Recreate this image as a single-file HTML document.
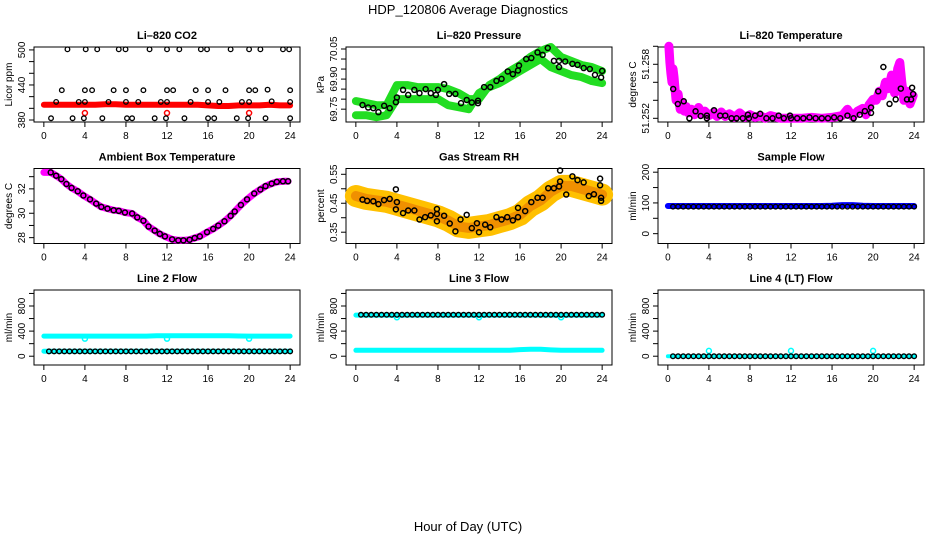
<!DOCTYPE html>
<html><head><meta charset="utf-8"><style>
html,body{margin:0;padding:0;background:#fff}
svg{display:block;font-family:"Liberation Sans",sans-serif}
</style></head><body>
<svg id="chart" width="936" height="540" viewBox="0 0 936 540" xmlns="http://www.w3.org/2000/svg">
<rect width="936" height="540" fill="#fff"/>
<text x="468" y="14" font-size="13" text-anchor="middle">HDP_120806  Average Diagnostics</text>
<text x="468" y="531" font-size="13" text-anchor="middle">Hour of Day (UTC)</text>
</svg>
<script>
const halfHours = [0.5,1,1.5,2,2.5,3,3.5,4,4.5,5,5.5,6,6.5,7,7.5,8,8.5,9,9.5,10,10.5,11,11.5,12,12.5,13,13.5,14,14.5,15,15.5,16,16.5,17,17.5,18,18.5,19,19.5,20,20.5,21,21.5,22,22.5,23,23.5,24];
const hourly = [0,1,2,3,4,5,6,7,8,9,10,11,12,13,14,15,16,17,18,19,20,21,22,23,24];
const xTicks = [0,4,8,12,16,20,24];

// CO2
const co2Hours = [2.3,4.08,5.2,7.3,7.96,10.3,12.0,13.2,15.3,15.9,18.2,20.0,21.1,23.3,23.9,1.75,4.0,4.7,6.8,8.0,9.7,12.0,12.6,14.8,16,17.7,20,20.6,21.8,24,1.2,3.4,4.0,6.3,8,9.2,11.4,12,14.3,16,17.1,19.3,20,22.2,24,0.7,2.8,3.9,5.7,8.1,8.6,10.8,11.9,13.7,16,16.6,18.8,19.9,21.6,24];
const co2Values = [501,501,501,501,501,501,501,501,501,501,501,501,501,501,501,431,431,431,431,431,431,431,431,431,431,431,431,431,432,431,411,411,411,411,411,411,411,411,411,411,411,411,411,412,411,383,383,383,383,383,383,383,383,383,383,383,383,383,383,383];
const co2Band = [406,406,406,406,406,406,407,407,406,406,406,406,406,406,406,406,405,404,404,405,405,405,406,405,405];
const co2RedHours = [4,12,20];
const co2RedValues = [392,392,392];

// Pressure
const presHours = [0.65,1.2,1.7,2.2,2.76,3.3,3.9,4.0,4.6,5.1,5.7,6.2,6.8,7.3,7.8,8.0,8.6,9.1,9.7,10.25,10.8,11.3,11.9,11.9,12.5,13.1,13.7,14.2,14.8,15.3,15.8,15.9,16.6,17.1,17.7,18.2,18.7,19.3,19.8,19.8,20.4,21.1,21.6,22.2,22.8,23.3,23.9,24.0];
const presValues = [69.771,69.758,69.755,69.735,69.767,69.755,69.785,69.808,69.846,69.821,69.846,69.830,69.850,69.830,69.821,69.846,69.875,69.826,69.826,69.780,69.796,69.783,69.780,69.792,69.860,69.860,69.891,69.901,69.938,69.925,69.943,69.968,70.000,70.005,70.033,70.021,70.055,69.991,69.991,69.960,69.988,69.976,69.971,69.955,69.950,69.921,69.908,69.941];
const presUpper = [69.79,69.78,69.77,69.77,69.87,69.87,69.86,69.86,69.86,69.85,69.83,69.80,69.80,69.87,69.90,69.94,69.97,70.01,70.04,70.06,70.01,69.99,69.97,69.96,69.94];
const presLower = [69.72,69.72,69.71,69.72,69.80,69.80,69.80,69.80,69.80,69.77,69.76,69.75,69.83,69.86,69.88,69.91,69.94,69.97,70.00,69.96,69.94,69.92,69.91,69.89,69.88];

// Li-820 temperature
const tempHours = [0.52,0.97,1.55,2.1,2.7,3.2,3.8,3.8,4.5,5.1,5.6,6.2,6.7,7.3,7.8,7.9,8.5,9.0,9.6,10.2,10.8,11.3,11.9,12.0,12.6,13.2,13.8,14.4,15.0,15.6,16.2,16.8,17.5,18.1,18.7,19.2,19.8,19.8,20.5,21.0,21.6,22.2,22.7,23.3,23.7,23.8,23.9];
const tempValues = [51.25526,51.25359,51.25389,51.2520,51.25278,51.25226,51.2523,51.2520,51.2529,51.2523,51.2523,51.2520,51.2520,51.2520,51.2524,51.2520,51.2523,51.2525,51.2520,51.2520,51.2523,51.2520,51.2523,51.2520,51.2520,51.2520,51.2521,51.2520,51.2520,51.2520,51.2521,51.2520,51.2523,51.2520,51.2524,51.2528,51.2532,51.2526,51.2550,51.2577,51.2536,51.2541,51.2553,51.2541,51.2541,51.2554,51.2547];
const tempScatHours = [0.1,0.2,0.3,0.4,0.5,0.6,0.7,0.8,1.0,1.2,1.4,1.6,1.8,2.0,2.3,2.6,3.0,3.3,3.6,4.0,4.4,4.8,5.2,5.6,6.0,6.5,7,7.5,8,8.5,9,9.5,10,11,12,13,14,15,16,17,17.5,18,18.5,19,19.3,19.6,20,20.3,20.6,20.9,21.2,21.5,21.8,22.1,22.4,22.6,22.8,23.0,23.3,23.6,23.9];
const tempScatValues = [51.2600,51.2582,51.2570,51.2560,51.2575,51.2566,51.2553,51.2540,51.2547,51.2530,51.2537,51.2528,51.2533,51.2526,51.2530,51.2524,51.2532,51.2525,51.2528,51.2523,51.2526,51.2522,51.2527,51.2522,51.2525,51.2521,51.2526,51.2521,51.2524,51.2521,51.2523,51.2520,51.2523,51.2520,51.2520,51.2520,51.2521,51.2520,51.2521,51.2523,51.2530,51.2522,51.2528,51.2531,51.2524,51.2535,51.2541,51.2540,51.2550,51.2545,51.2560,51.2553,51.2568,51.2548,51.2575,51.2582,51.2560,51.2540,51.2550,51.2536,51.2545];

// Ambient box temperature
const ambHours = [0.67,1.2,1.7,2.2,2.7,3.3,3.85,4.5,5.1,5.6,6.2,6.8,7.3,7.9,8.6,9.1,9.7,10.2,10.8,11.3,11.8,12.5,13.1,13.6,14.2,14.7,15.2,15.9,16.5,17.0,17.6,18.2,18.6,19.2,19.8,20.5,21.1,21.6,22.2,22.7,23.3,23.8];
const ambValues = [33.35,33.08,32.8,32.4,32.08,31.8,31.46,31.14,30.79,30.52,30.38,30.25,30.2,30.06,29.98,29.66,29.39,28.91,28.58,28.31,28.1,27.86,27.78,27.78,27.83,27.97,28.1,28.45,28.72,28.99,29.34,29.79,30.14,30.68,31.14,31.62,31.95,32.22,32.43,32.57,32.62,32.62];

// Gas stream RH
const rhHours = [0.65,1.1,1.7,2.2,2.75,3.3,3.9,3.9,4.0,4.6,5.1,5.7,6.2,6.75,7.3,7.9,7.9,7.9,8.6,9.15,9.7,10.2,10.8,11.3,11.8,12.0,12.6,13.1,13.7,14.2,14.75,15.3,15.8,15.8,16.5,17.1,17.7,18.2,18.75,19.3,19.8,19.9,19.9,20.5,21.1,21.6,22.2,22.7,23.2,23.8,23.8,23.9,23.9];
const rhValues = [0.4625,0.458,0.457,0.447,0.461,0.465,0.498,0.429,0.454,0.416,0.425,0.425,0.394,0.402,0.408,0.413,0.430,0.388,0.407,0.380,0.353,0.394,0.410,0.364,0.381,0.350,0.376,0.367,0.402,0.394,0.402,0.391,0.402,0.434,0.423,0.454,0.469,0.469,0.502,0.502,0.508,0.525,0.563,0.480,0.543,0.530,0.522,0.475,0.481,0.535,0.512,0.469,0.458];
const rhBand = [0.475,0.465,0.46,0.455,0.445,0.435,0.425,0.415,0.405,0.39,0.37,0.365,0.37,0.375,0.385,0.395,0.41,0.44,0.46,0.49,0.51,0.51,0.50,0.49,0.48];

// Sample flow
const sampleBand = [90,90,90,90,90,90,90,90,90,90,90,90,90,90,90,90,91,93,93,91,90,90,90,90,90];
const sampleValues = [88,88,88,88,88,88,88,88,88,88,88,88,88,88,88,88,88,88,88,88,88,88,88,88,88,88,88,88,88,88,88,88,88,88,88,88,88,88,88,88,88,88,88,88,88,88,88,88];

// Line flows
const line2Upper = [320,320,320,320,320,320,320,320,320,320,320,325,325,325,325,325,325,325,325,322,320,320,320,320,320];
const line2Lower = [80,80,80,80,80,80,80,80,80,80,80,80,80,80,80,80,80,80,80,80,80,80,80,80,80];
const line2Values = [78,78,78,78,78,78,78,78,78,78,78,78,78,78,78,78,78,78,78,78,78,78,78,78,78,78,78,78,78,78,78,78,78,78,78,78,78,78,78,78,78,78,78,78,78,78,78,78];
const dipHours = [4,12,20];
const line2Dips = [280,280,280];
const line3Upper = [655,655,655,655,650,655,655,655,655,655,655,655,650,655,655,655,655,655,655,655,650,655,655,655,655];
const line3Lower = [95,95,95,95,95,95,95,95,95,95,95,95,95,95,95,95,105,110,110,100,95,95,95,95,95];
const line3Values = [660,660,660,660,660,660,660,660,660,660,660,660,660,660,660,660,660,660,660,660,660,660,660,660,660,660,660,660,660,660,660,660,660,660,660,660,660,660,660,660,660,660,660,660,660,660,660,660];
const line3Dips = [620,620,620];
const line4Values = [0,0,0,0,0,0,0,0,0,0,0,0,0,0,0,0,0,0,0,0,0,0,0,0,0,0,0,0,0,0,0,0,0,0,0,0,0,0,0,0,0,0,0,0,0,0,0,0];
const line4Spikes = [85,85,85];

// y axis ticks / labels
const co2Ticks = [380,400,420,440,460,480,500], co2Labels = ["380","440","500"];
const presTicks = [69.75,69.80,69.85,69.90,69.95,70.00,70.05], presLabels = ["69.75","69.90","70.05"];
const tempTicks = [51.252,51.254,51.256,51.258,51.260], tempLabels = ["51.252","51.258"];
const ambTicks = [28,29,30,31,32,33], ambLabels = ["28","30","32"];
const rhTicks = [0.35,0.40,0.45,0.50,0.55], rhLabels = ["0.35","0.45","0.55"];
const sfTicks = [0,50,100,150,200], sfLabels = ["0","100","200"];
const flowTicks = [0,200,400,600,800,1000], flowLabels = ["0","400","800"];

const NS = "http://www.w3.org/2000/svg";
const svg = document.getElementById("chart");
function mk(tag, attrs, parent){
  const e = document.createElementNS(NS, tag);
  for (const k in attrs) e.setAttribute(k, attrs[k]);
  (parent||svg).appendChild(e);
  return e;
}
const lefts = [34,346,658], tops = [47,168.5,290], W = 266, H = 75;

function panel(name, col, row, ymin, ymax, title, ylab, ticks, labels){
  const L = lefts[col], T = tops[row], B = T + H;
  const g = mk("g", {});
  
  
  const p = {g, L, T, B,
    sx: h => L + (h + 0.96) / 25.92 * W,
    sy: v => B - (v - ymin) / (ymax - ymin) * H};
  const box = mk("rect", {x:L, y:T, width:W, height:H, fill:"none", stroke:"#000", "stroke-width":1}, g);
  
  
  const t = mk("text", {x:L + W/2, y:T - 8, "font-size":11, "font-weight":"bold", "text-anchor":"middle"}, g);
  t.textContent = title;
  
  
  const yl = mk("text", {transform:`translate(${L-22},${T+H/2}) rotate(-90)`, "font-size":10, "text-anchor":"middle"}, g);
  yl.textContent = ylab;
  
  
  const xa = mk("g", {}, g);
  
  
  mk("line", {x1:p.sx(0), x2:p.sx(24), y1:B, y2:B, stroke:"#000"}, xa);
  xTicks.forEach(h => {
    mk("line", {x1:p.sx(h), x2:p.sx(h), y1:B, y2:B+5, stroke:"#000"}, xa);
    const tx = mk("text", {x:p.sx(h), y:B+17, "font-size":10, "text-anchor":"middle"}, xa);
    tx.textContent = String(h);
  });
  const ya = mk("g", {}, g);
  
  
  mk("line", {x1:L, x2:L, y1:p.sy(ticks[0]), y2:p.sy(ticks[ticks.length-1]), stroke:"#000"}, ya);
  ticks.forEach(v => mk("line", {x1:L-5, x2:L, y1:p.sy(v), y2:p.sy(v), stroke:"#000"}, ya));
  labels.forEach(s => {
    const ty = mk("text", {transform:`translate(${L-9},${p.sy(parseFloat(s))}) rotate(-90)`, "font-size":10, "text-anchor":"middle"}, ya);
    ty.textContent = s;
  });
  return p;
}
function band(p, xs, ys, color, w, name){
  const d = xs.map((h,i) => (i ? "L" : "M") + p.sx(h).toFixed(1) + "," + p.sy(ys[i]).toFixed(1)).join("");
  const e = mk("path", {d, fill:"none", stroke:color, "stroke-width":w, "stroke-linecap":"round", "stroke-linejoin":"round"}, p.g);
  
  
}
function pts(p, xs, ys, color, r, sw, name){
  const g = mk("g", {}, p.g);
  
  
  xs.forEach((h,i) => mk("circle", {cx:p.sx(h), cy:p.sy(ys[i]), r, fill:"none", stroke:color, "stroke-width":sw}, g));
}

let p = panel("co2", 0, 0, 376.6, 505, "Li\u2013820 CO2", "Licor ppm", co2Ticks, co2Labels);
band(p, hourly, co2Band, "#ff0000", 6, "co2-band");
pts(p, co2RedHours, co2RedValues, "#ff0000", 2.5, 1.5, "co2-red-points");
pts(p, co2Hours, co2Values, "#000", 2.3, 1.3, "co2-points");

p = panel("pressure", 1, 0, 69.686, 70.06, "Li\u2013820 Pressure", "kPa", presTicks, presLabels);
band(p, hourly, presUpper, "#22dd22", 8, "pressure-upper-band");
band(p, hourly, presLower, "#22dd22", 8, "pressure-lower-band");
pts(p, presHours, presValues, "#000", 2.5, 1.5, "pressure-points");

p = panel("li820-temp", 2, 0, 51.25159, 51.25992, "Li\u2013820 Temperature", "degrees C", tempTicks, tempLabels);
band(p, tempScatHours, tempScatValues, "#ff00ff", 9, "li820-temp-band");
pts(p, tempScatHours, tempScatValues, "#ff00ff", 3, 1.5, "li820-temp-scatter");
pts(p, tempHours, tempValues, "#000", 2.5, 1.5, "li820-temp-points");

p = panel("ambient", 0, 1, 27.52, 33.67, "Ambient Box Temperature", "degrees C", ambTicks, ambLabels);
band(p, [0].concat(ambHours), [33.35].concat(ambValues), "#ff00ff", 7, "ambient-band");
pts(p, ambHours, ambValues, "#000", 2.5, 1.5, "ambient-points");

p = panel("rh", 1, 1, 0.311, 0.570, "Gas Stream RH", "percent", rhTicks, rhLabels);
band(p, hourly, rhBand, "#ffc000", 22, "rh-band");
band(p, hourly, rhBand, "#f09000", 10, "rh-band-core");
pts(p, rhHours, rhValues, "#000", 2.5, 1.5, "rh-points");

p = panel("sample-flow", 2, 1, -32, 212, "Sample Flow", "ml/min", sfTicks, sfLabels);
band(p, hourly, sampleBand, "#0000ff", 6, "sample-flow-band");
pts(p, halfHours, sampleValues, "#000", 2.3, 1.4, "sample-flow-points");

p = panel("line2-flow", 0, 2, -140, 1055, "Line 2 Flow", "ml/min", flowTicks, flowLabels);
band(p, hourly, line2Upper, "#00ffff", 5, "line2-upper-band");
band(p, hourly, line2Lower, "#00ffff", 5, "line2-lower-band");
pts(p, dipHours, line2Dips, "#00ffff", 2.5, 1.5, "line2-dips");
pts(p, halfHours, line2Values, "#000", 2.3, 1.4, "line2-points");

p = panel("line3-flow", 1, 2, -140, 1055, "Line 3 Flow", "ml/min", flowTicks, flowLabels);
band(p, hourly, line3Upper, "#00ffff", 5, "line3-upper-band");
band(p, hourly, line3Lower, "#00ffff", 5, "line3-lower-band");
pts(p, dipHours, line3Dips, "#00ffff", 2.5, 1.5, "line3-dips");
pts(p, halfHours, line3Values, "#000", 2.3, 1.4, "line3-points");

p = panel("line4-flow", 2, 2, -140, 1055, "Line 4 (LT) Flow", "ml/min", flowTicks, flowLabels);
band(p, [0, 24], [0, 0], "#00ffff", 4, "line4-band");
pts(p, dipHours, line4Spikes, "#00ffff", 2.5, 1.5, "line4-spikes");
pts(p, halfHours, line4Values, "#000", 2.3, 1.4, "line4-points");
</script>
</body></html>
